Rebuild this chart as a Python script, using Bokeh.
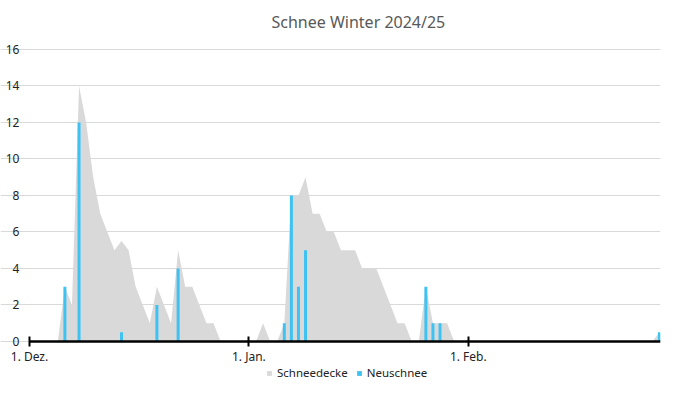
from datetime import date
from bokeh.plotting import figure
from bokeh.models import Range1d, Legend, LegendItem, FixedTicker, ColumnDataSource
from bokeh.embed import file_html
from bokeh.resources import INLINE

# ---- data -------------------------------------------------------------
season_start = date(2024, 12, 1)
tick_dates = [date(2024, 12, 1), date(2025, 1, 1), date(2025, 2, 1)]
tick_labels = ["1. Dez.", "1. Jan.", "1. Feb."]

# snow cover (cm) per day, 1 Dec 2024 .. 28 Feb 2025
schneedecke = [
    0, 0, 0, 0, 0, 3, 2, 14, 12, 9, 7, 6, 5, 5.5, 5, 3, 2, 1, 3, 2,
    1, 5, 3, 3, 2, 1, 1, 0, 0, 0, 0, 0, 0, 1, 0, 0, 1, 8, 8, 9,
    7, 7, 6, 6, 5, 5, 5, 4, 4, 4, 3, 2, 1, 1, 0, 0, 3, 1, 1, 1,
    0, 0, 0, 0, 0, 0, 0, 0, 0, 0, 0, 0, 0, 0, 0, 0, 0, 0, 0, 0,
    0, 0, 0, 0, 0, 0, 0, 0, 0, 0.5,
]
# new snow (cm) per day
neuschnee = [
    0, 0, 0, 0, 0, 3, 0, 12, 0, 0, 0, 0, 0, 0.5, 0, 0, 0, 0, 2, 0,
    0, 4, 0, 0, 0, 0, 0, 0, 0, 0, 0, 0, 0, 0, 0, 0, 1, 8, 3, 5,
    0, 0, 0, 0, 0, 0, 0, 0, 0, 0, 0, 0, 0, 0, 0, 0, 3, 1, 1, 0,
    0, 0, 0, 0, 0, 0, 0, 0, 0, 0, 0, 0, 0, 0, 0, 0, 0, 0, 0, 0,
    0, 0, 0, 0, 0, 0, 0, 0, 0, 0.5,
]
y_ticks = [0, 2, 4, 6, 8, 10, 12, 14, 16]

days = list(range(len(schneedecke)))
tick_pos = [(d - season_start).days for d in tick_dates]

GRAY = "#d9d9d9"
BLUE = "#3cc2f3"
FONT = "Noto Sans"

X_END = days[-1] + 0.15
X_START = -0.15

p = figure(
    width=685, height=394,
    x_range=Range1d(-4.097, X_END),
    y_range=Range1d(-2.685, 16.493),
    output_backend="svg", toolbar_location=None,
    min_border_left=0, min_border_right=25,
    min_border_top=40, min_border_bottom=4,
    background_fill_color="white", border_fill_color="white",
    outline_line_color=None,
)

area = p.varea(x=days, y1=[0] * len(days), y2=schneedecke, fill_color=GRAY)

bar_src = ColumnDataSource(dict(
    x=[d for d, v in zip(days, neuschnee) if v > 0],
    top=[v for v in neuschnee if v > 0],
))
bars = p.vbar(x="x", top="top", width=0.42, source=bar_src,
              fill_color=BLUE, line_color=None)

# title
p.title.text = "Schnee Winter 2024/25"
p.title.align = "left"
p.title.text_font = FONT
p.title.text_font_size = "16px"
p.title.text_font_style = "normal"
p.title.text_color = "#595959"
p.title.offset = 271
p.title.standoff = 16

# grid
p.xgrid.visible = False
p.ygrid.ticker = FixedTicker(ticks=y_ticks)
p.ygrid.grid_line_color = GRAY
p.ygrid.grid_line_width = 1
p.ygrid.bounds = (X_START, X_END)

# x axis (drawn inside the frame at y = 0)
xa = p.xaxis[0]
xa.fixed_location = 0
xa.bounds = (0, X_END)
xa.ticker = FixedTicker(ticks=tick_pos)
xa.major_label_overrides = {pos: lab for pos, lab in zip(tick_pos, tick_labels)}
xa.axis_line_color = "black"
xa.axis_line_width = 2.5
xa.major_tick_line_color = "black"
xa.major_tick_line_width = 2
xa.major_tick_in = 5
xa.major_tick_out = 5
xa.minor_tick_line_color = None
xa.major_label_text_font = FONT
xa.major_label_text_font_size = "12px"
xa.major_label_text_color = "#222222"
xa.major_label_standoff = 2

# y axis (drawn inside the frame at the left edge of the grid)
ya = p.yaxis[0]
ya.fixed_location = X_START
ya.ticker = FixedTicker(ticks=y_ticks)
ya.axis_line_color = None
ya.major_tick_line_color = None
ya.minor_tick_line_color = None
ya.major_tick_out = 0
ya.major_tick_in = 0
ya.major_label_text_font = FONT
ya.major_label_text_font_size = "12px"
ya.major_label_text_color = "#222222"
ya.major_label_standoff = 9

legend = Legend(
    items=[LegendItem(label="Schneedecke", renderers=[area]),
           LegendItem(label="Neuschnee", renderers=[bars])],
    orientation="horizontal",
    location=(265, 9),
    glyph_width=6, glyph_height=6, label_standoff=5, spacing=8,
    padding=1, margin=0, label_height=12,
    border_line_alpha=0, background_fill_alpha=0,
    label_text_font=FONT, label_text_font_size="11.5px",
    label_text_color="#222222",
)
p.add_layout(legend, "center")

open("out.html", "w").write(file_html(p, INLINE))
